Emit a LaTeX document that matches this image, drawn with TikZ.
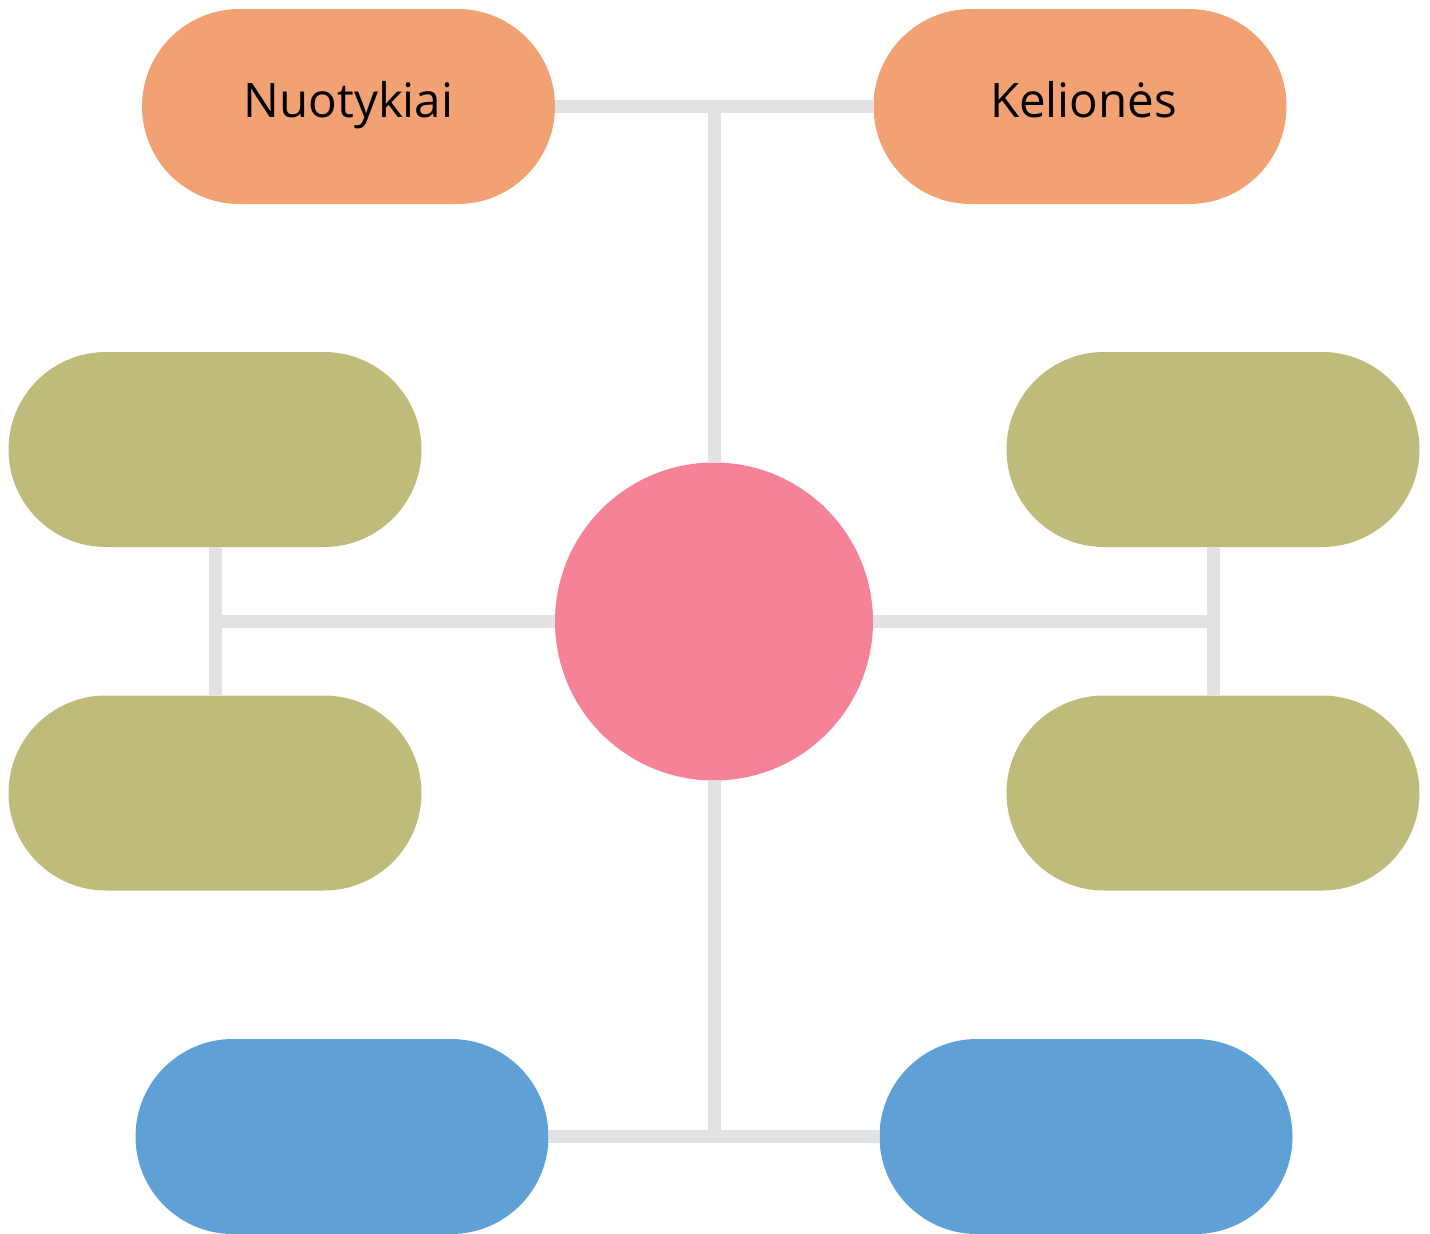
\documentclass[tikz,border=0pt]{standalone}
\usepackage{fontspec}
\setmainfont{Open Sans}
\usetikzlibrary{shapes.misc}
\definecolor{pillorange}{HTML}{F2A173}
\definecolor{pillgreen}{HTML}{BFBB7A}
\definecolor{pillblue}{HTML}{5FA0D7}
\definecolor{hubpink}{HTML}{F58297}
\definecolor{linkgray}{HTML}{E1E2E4}
\tikzset{
  pill/.style={rounded rectangle, inner sep=0pt, minimum width=413pt, minimum height=195pt,
    font=\fontsize{47.5}{57}\selectfont, text height=21pt, text depth=0pt, text=black},
  hub/.style={circle, inner sep=0pt, minimum size=318pt, fill=hubpink},
  link/.style={draw=linkgray, line width=13pt}
}
\begin{document}
\begin{tikzpicture}[x=1pt,y=-1pt]
\useasboundingbox (0,0) rectangle (1430,1234);
\node[hub] (c) at (714,621.5) {};
\node[pill, fill=pillorange] (o1) at (348.5,106.5) {Nuotykiai};
\node[pill, fill=pillorange] (o2) at (1080,106.5) {\hspace*{7pt}Kelionės};
\node[pill, fill=pillgreen] (g1) at (215,449.5) {};
\node[pill, fill=pillgreen] (g2) at (215,793) {};
\node[pill, fill=pillgreen] (g3) at (1213,449.5) {};
\node[pill, fill=pillgreen] (g4) at (1213,793) {};
\node[pill, fill=pillblue] (b1) at (342,1136.5) {};
\node[pill, fill=pillblue] (b2) at (1086,1136.5) {};
\draw[link] (o1.east) -- (o2.west);
\draw[link] (c.north) -- (c.north |- o1.east);
\draw[link] (c.west) -- (g1.south |- c.west);
\draw[link] (g1.south) -- (g2.north);
\draw[link] (c.east) -- (g3.south |- c.east);
\draw[link] (g3.south) -- (g4.north);
\draw[link] (c.south) -- (c.south |- b1.east);
\draw[link] (b1.east) -- (b2.west);
\end{tikzpicture}
\end{document}
